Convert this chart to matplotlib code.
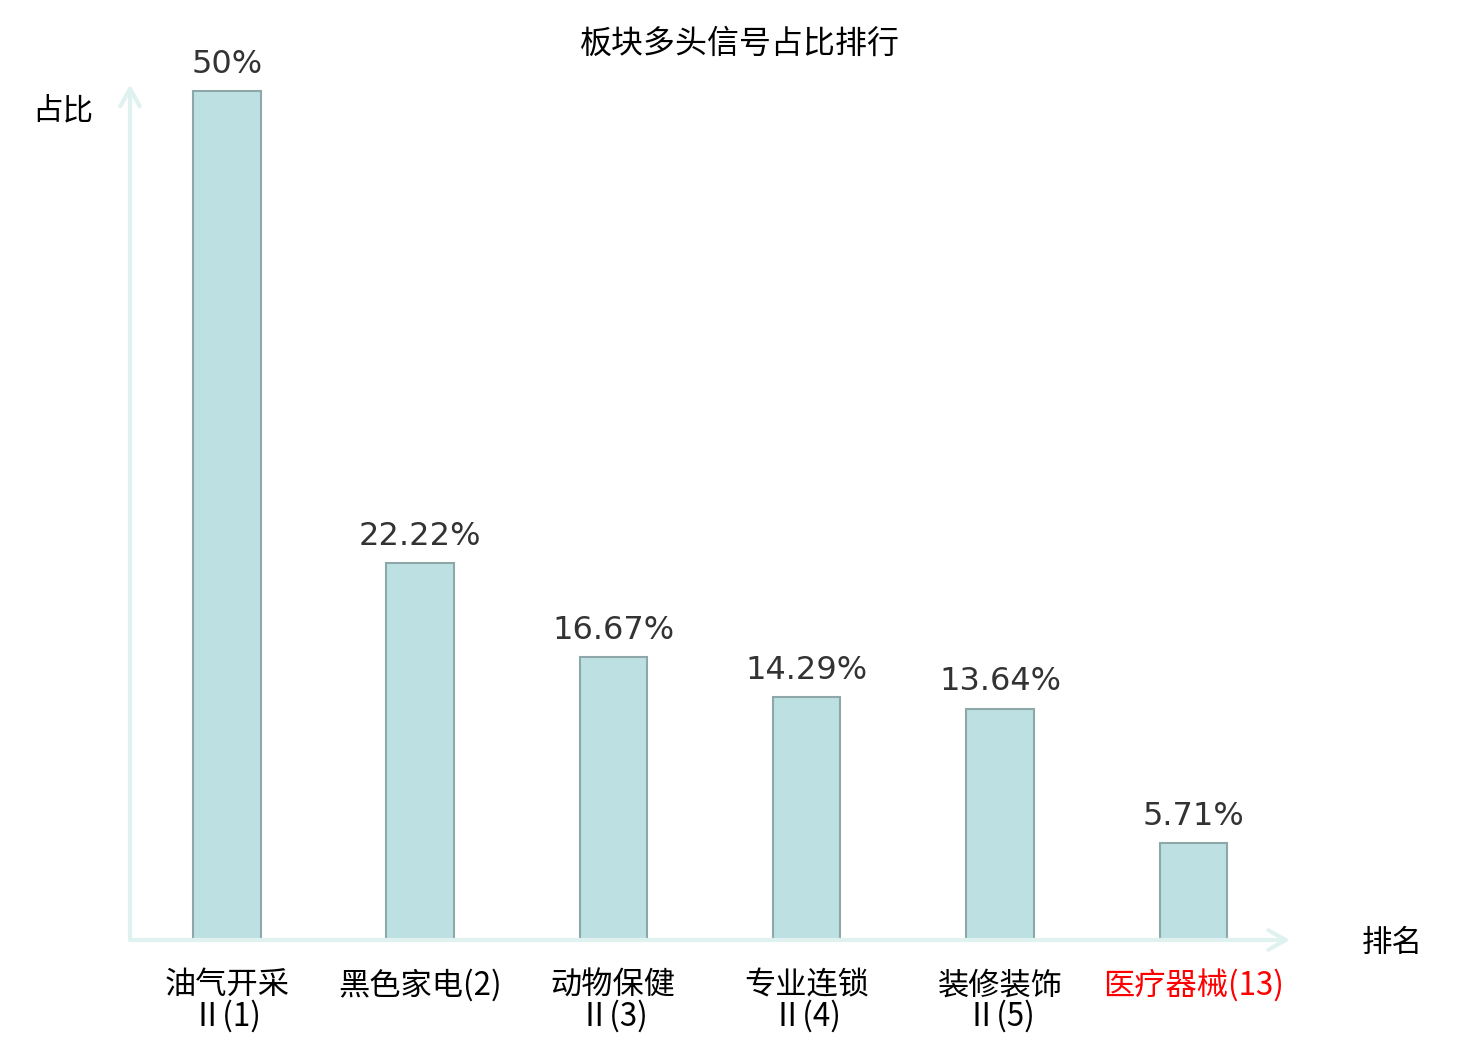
import numpy as np
import matplotlib
matplotlib.use("Agg")
import matplotlib.pyplot as plt

# data
sectors = ["油气开采Ⅱ", "黑色家电", "动物保健Ⅱ", "专业连锁Ⅱ", "装修装饰Ⅱ", "医疗器械"]
ranks = [1, 2, 3, 4, 5, 13]
shares = [50, 22.22, 16.67, 14.29, 13.64, 5.71]
value_labels = ["50%", "22.22%", "16.67%", "14.29%", "13.64%", "5.71%"]
highlight = [False, False, False, False, False, True]

cjk = ["Noto Sans CJK SC", "DejaVu Sans"]
axis_color = "#dff2ef"


# break long sector names after 4 characters, then add the rank
def make_label(name, rank):
    if len(name) > 4:
        return name[:4] + "\n" + name[4:] + "(" + str(rank) + ")"
    return name + "(" + str(rank) + ")"


labels = [make_label(s, r) for s, r in zip(sectors, ranks)]

fig = plt.figure(figsize=(14.8, 10.4), dpi=100)
ax = fig.add_axes([130 / 1480, 100 / 1040, 1160 / 1480, 852 / 1040])

x = np.arange(len(shares))
bars = ax.bar(x, shares, width=0.35, color="#bde0e3", edgecolor="#8ea8a9", linewidth=1.5, zorder=3)

for b, txt in zip(bars, value_labels):
    ax.annotate(txt, (b.get_x() + b.get_width() / 2, b.get_height()),
                xytext=(0, 8), textcoords="offset points", ha="center", va="bottom",
                fontsize=23, color="#333333", family="DejaVu Sans")

ax.set_xlim(-0.5, 5.5)
ax.set_ylim(0, 50.2)
for sp in ax.spines.values():
    sp.set_visible(False)
ax.set_yticks([])
ax.set_xticks(x)
ax.set_xticklabels(labels, fontsize=22.5, family=cjk, linespacing=0.95)
ax.tick_params(axis="x", length=0, pad=21)
for lab, hl in zip(ax.get_xticklabels(), highlight):
    lab.set_color("red" if hl else "black")

# axis arrows
arrow = dict(arrowstyle="->,head_length=1.25,head_width=0.7", color=axis_color, lw=3,
             shrinkA=0, shrinkB=0)
ax.annotate("", xy=(0, 1.004), xytext=(0, 0), xycoords="axes fraction", arrowprops=arrow)
ax.annotate("", xy=(1.0, 0), xytext=(0, 0), xycoords="axes fraction", arrowprops=arrow)

fig.text(0.5, 1 - 44 / 1040, "板块多头信号占比排行", ha="center", va="center", fontsize=23, family=cjk)
fig.text(63 / 1480, 1 - 111 / 1040, "占比", ha="center", va="center", fontsize=22, family=cjk)
fig.text(1392 / 1480, 1 - 943 / 1040, "排名", ha="center", va="center", fontsize=22, family=cjk)

fig.savefig("out.png", dpi=100, facecolor="white")
